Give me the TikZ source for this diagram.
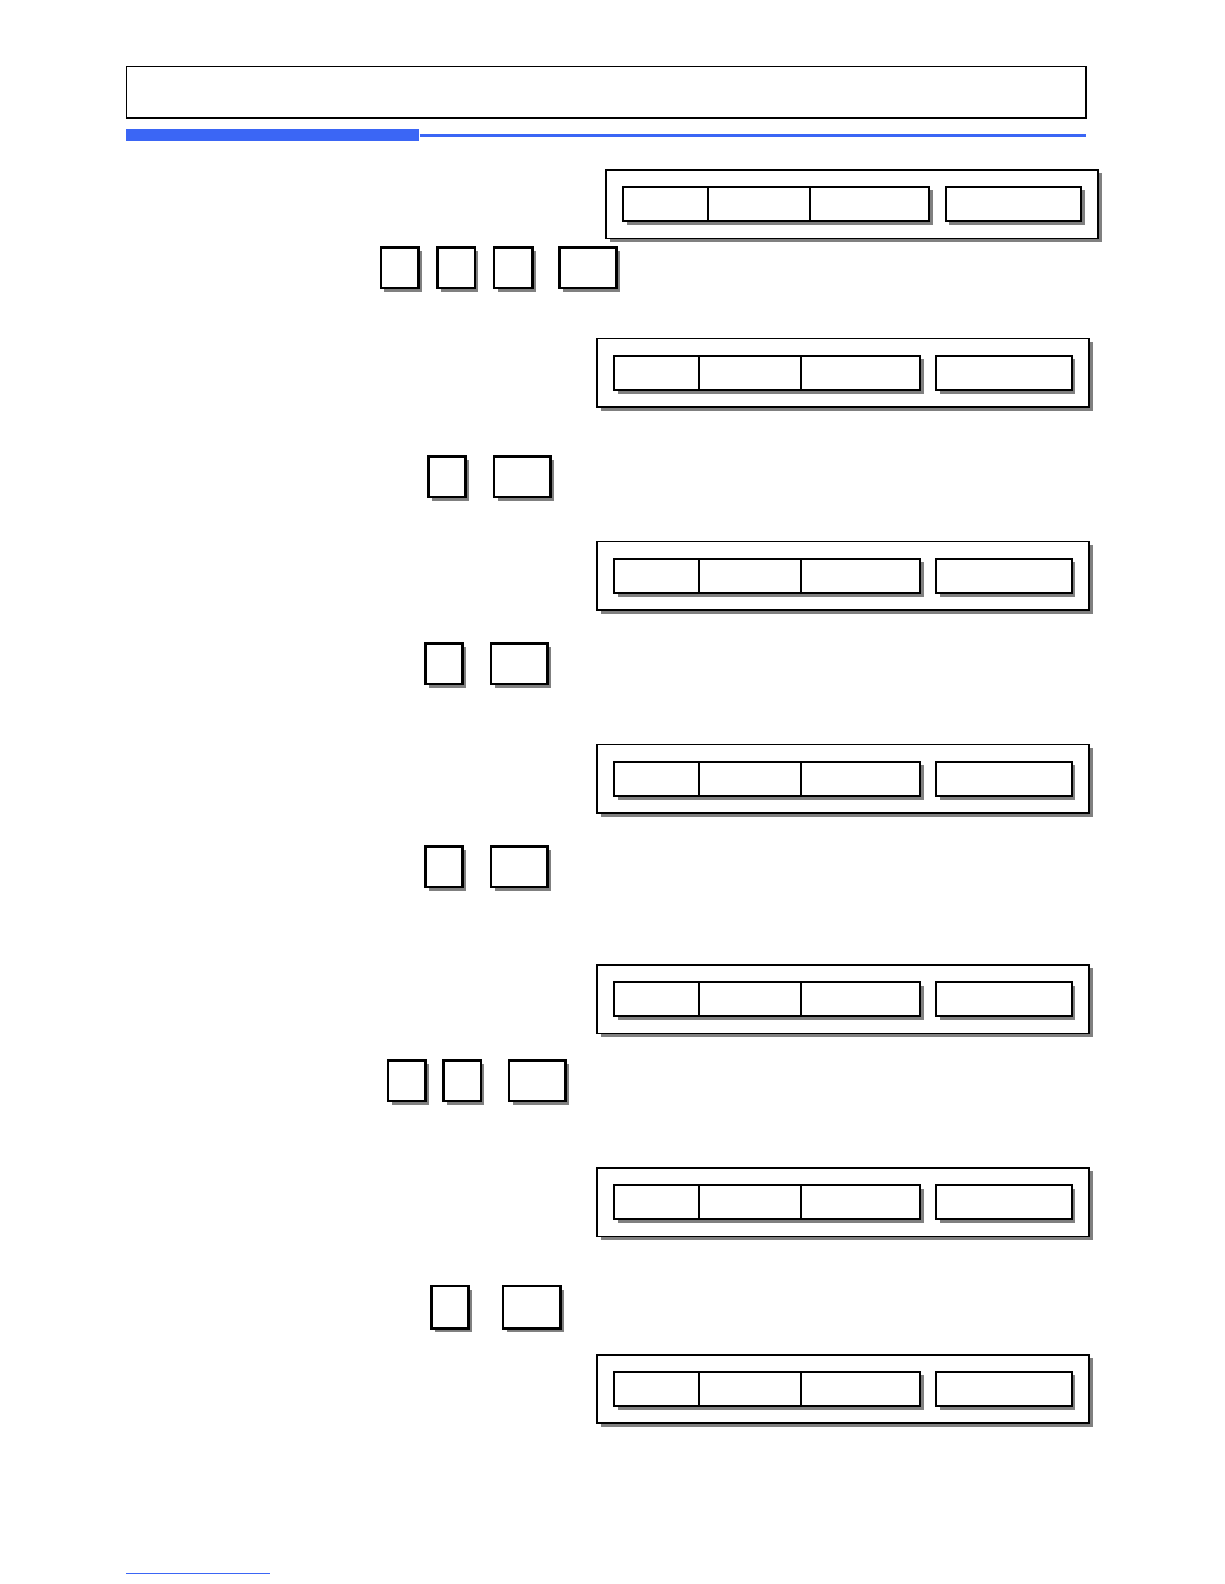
\documentclass[tikz,border=0pt]{standalone}
\usetikzlibrary{shadows,fit}
\definecolor{barblue}{RGB}{59,102,245}
\definecolor{shadowgray}{RGB}{128,128,128}
\tikzset{
  sh/.style={drop shadow={shadow xshift=1.8pt, shadow yshift=-1.8pt, fill=shadowgray, opacity=1}},
  outerbox/.style={draw, fill=white, line width=0.9pt, inner sep=0pt, sh},
  cellbox/.style={draw, fill=white, line width=1pt, inner sep=0pt, sh},
  smallbox/.style={draw, fill=white, line width=1.3pt, inner sep=0pt, sh},
  headbox/.style={draw, line width=0.7pt, inner sep=0pt},
  barbox/.style={fill=barblue, inner sep=0pt},
}
\begin{document}
\begin{tikzpicture}[x=0.505pt, y=-0.505pt]
\useasboundingbox (0,0) rectangle (1212,1568);
% header
\node[headbox, fit={(125,66) (1075,117)}] (header) {};
\node[barbox, fit={(125,128) (415,140)}] (bar) {};
\coordinate (barend) at (1075,134);
\draw[barblue, line width=1.5pt] (bar.east) -- (barend);
% groups
\foreach \i/\dx/\t in {1/9/168, 2/0/335, 3/0/536, 4/0/737, 5/0/955, 6/0/1156, 7/0/1341} {
  \node[outerbox, fit={({591+\dx},{\t}) ({1078+\dx},{\t+68})}] (g\i) {};
  \node[cellbox, fit={({608+\dx},{\t+17}) ({692+\dx},{\t+51})}] (g\i a) {};
  \node[cellbox, fit={({692+\dx},{\t+17}) ({793+\dx},{\t+51})}] (g\i b) {};
  \node[cellbox, fit={({793+\dx},{\t+17}) ({911+\dx},{\t+51})}] (g\i c) {};
  \node[cellbox, fit={({927+\dx},{\t+17}) ({1061+\dx},{\t+51})}] (g\i d) {};
}
% small boxes
\foreach \r/\ya/\yb/\xs in {
  1/245/285/{377/414,433/470,489/527,554/610},
  2/452/492/{424/461,489/545},
  3/637/677/{421/458,486/542},
  4/838/878/{421/458,486/542},
  5/1050/1090/{384/421,439/476,504/560},
  6/1273/1315/{427/464,498/555}} {
  \foreach \xa/\xb [count=\k] in \xs {
    \node[smallbox, fit={(\xa,\ya) (\xb,\yb)}] (s\r-\k) {};
  }
}
% footer line
\coordinate (f1) at (125,1558);
\coordinate (f2) at (267,1558);
\draw[barblue, line width=0.5pt] (f1) -- (f2);
\end{tikzpicture}
\end{document}
